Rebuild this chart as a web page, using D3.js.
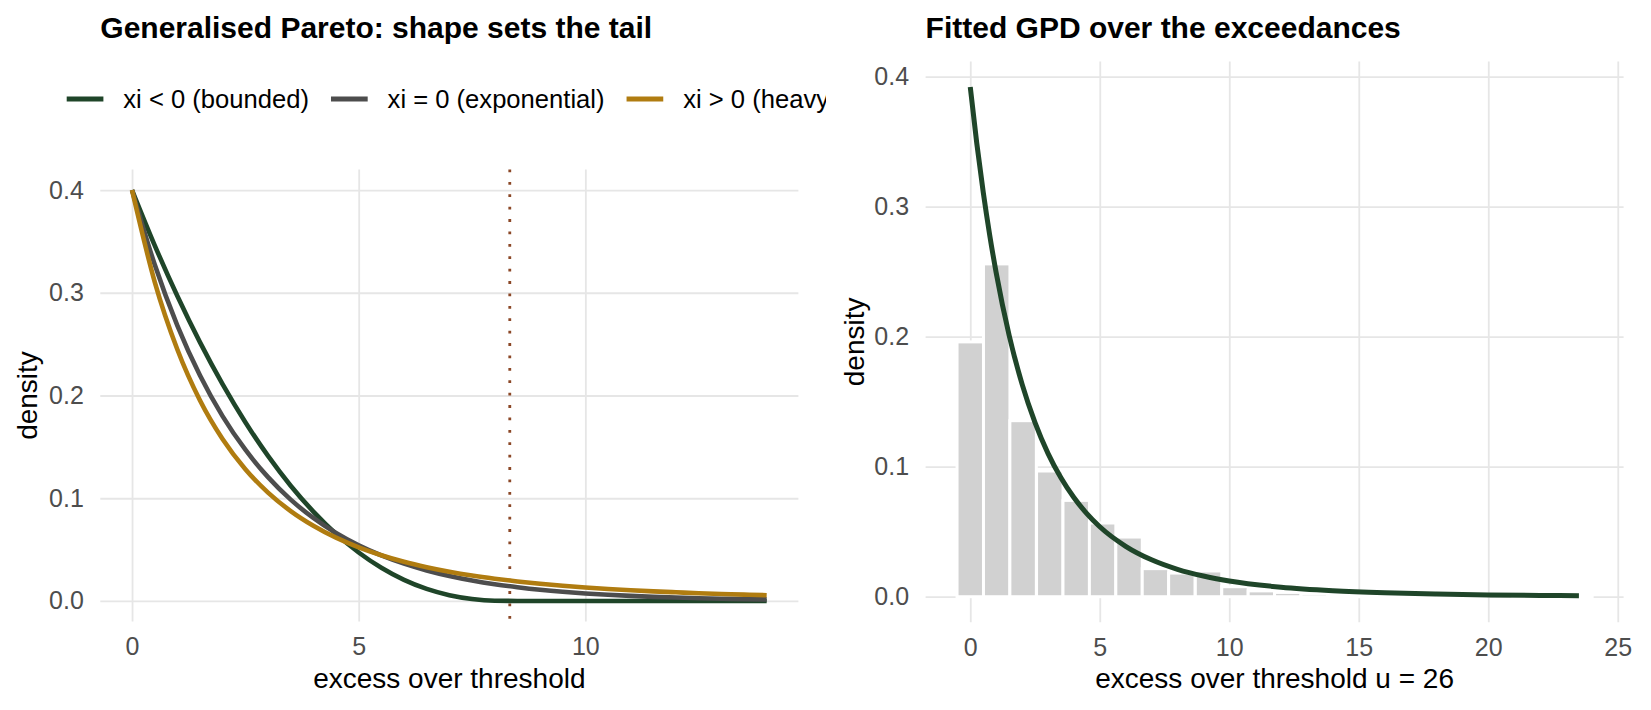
<!DOCTYPE html>
<html>
<head>
<meta charset="utf-8">
<script src="https://cdn.jsdelivr.net/npm/d3@7"></script>
<style>
  body { margin: 0; background: #fff; }
  svg { font-family: "Liberation Sans", Arial, Helvetica, sans-serif; }
  .grid line { stroke: #E6E6E6; stroke-width: 1.8; }
  .grid path { display: none; }
  .ticks path { display: none; }
  .ticks text { fill: #4D4D4D; font-size: 25px; }
</style>
</head>
<body>
<div id="vis-container"></div>
<script>
// ---- data ----

// left panel: GPD densities, sigma = 2.5, sampled every 0.5
var xGrid = [0, 0.5, 1, 1.5, 2, 2.5, 3, 3.5, 4, 4.5, 5, 5.5, 6, 6.5, 7, 7.5, 8, 8.5, 9, 9.5, 10, 10.5, 11, 11.5, 12, 12.5, 13, 13.5, 14];
var yBounded = [0.4, 0.3462, 0.2968, 0.2517, 0.2108, 0.1740, 0.1412, 0.1122, 0.0870, 0.0653, 0.0472, 0.0323, 0.0205, 0.0117, 0.0056, 0.0019, 0.0002, 0, 0, 0, 0, 0, 0, 0, 0, 0, 0, 0, 0];
var yExpon = [0.4, 0.3275, 0.2681, 0.2195, 0.1797, 0.1472, 0.1205, 0.0986, 0.0808, 0.0661, 0.0541, 0.0443, 0.0363, 0.0297, 0.0243, 0.0199, 0.0163, 0.0134, 0.0109, 0.0089, 0.0073, 0.0060, 0.0049, 0.0040, 0.0033, 0.0027, 0.0022, 0.0018, 0.0015];
var yHeavy = [0.4, 0.3107, 0.2448, 0.1952, 0.1575, 0.1283, 0.1055, 0.0875, 0.0732, 0.0616, 0.0522, 0.0445, 0.0381, 0.0329, 0.0285, 0.0248, 0.0217, 0.0190, 0.0167, 0.0148, 0.0131, 0.0117, 0.0104, 0.0093, 0.0084, 0.0075, 0.0068, 0.0062, 0.0056];
var seriesNames = ["xi < 0 (bounded)", "xi = 0 (exponential)", "xi > 0 (heavy tail)"];
var seriesColors = ["#1F4529", "#4D4D4D", "#B07C10"];
var upperEndpoint = 8.333;

// right panel: histogram of exceedances + fitted GPD
var binMid = [0, 1.02, 2.04, 3.07, 4.09, 5.11, 6.13, 7.15, 8.17, 9.20, 10.22, 11.24, 12.26, 13.28, 14.30, 15.33, 16.35, 17.37, 18.39, 19.41, 20.43, 21.46, 22.48, 23.50];
var binWidth = 1.0217;
var binDensity = [0.196, 0.256, 0.1354, 0.0967, 0.0741, 0.0567, 0.0459, 0.0216, 0.0182, 0.0198, 0.0077, 0.0045, 0.0033, 0.0025, 0.0015, 0.001, 0.0006, 0.0005, 0.0003, 0.0004, 0, 0.0002, 0, 0.0003];
var xFit = [0, 0.25, 0.5, 0.75, 1, 1.5, 2, 2.5, 3, 3.5, 4, 4.5, 5, 6, 7, 8, 9, 10, 12, 14, 16, 18, 20, 22, 23.5];
var yFit = [0.392, 0.3489, 0.3112, 0.2782, 0.2492, 0.2011, 0.1635, 0.1339, 0.1103, 0.0915, 0.0763, 0.0639, 0.0538, 0.0388, 0.0284, 0.0211, 0.0159, 0.0121, 0.0073, 0.0046, 0.0030, 0.0020, 0.0014, 0.0010, 0.0007];

var yTicks = [0, 0.1, 0.2, 0.3, 0.4];
var xTicksLeft = [0, 5, 10];
var xTicksRight = [0, 5, 10, 15, 20, 25];

// ---- svg ----
var width = 1651, height = 710;
var svg = d3.select("#vis-container").append("svg")
    .attr("width", width)
    .attr("height", height);

svg.append("clipPath").attr("id", "clip-left")
  .append("rect").attr("x", 0).attr("y", 0).attr("width", 826).attr("height", height);

// scales (domains include ggplot's default expansion)
var xL = d3.scaleLinear().domain([-0.7, 14.7]).range([100.3, 798.4]);
var yL = d3.scaleLinear().domain([-0.02, 0.42]).range([621.5, 169.5]);
var xR = d3.scaleLinear().domain([-1.725, 25.225]).range([925.6, 1623.6]);
var yR = d3.scaleLinear().domain([-0.0196, 0.4116]).range([622.2, 61.6]);

function drawFrame(g, x, y, xTicks, yTicks) {
    var x0 = x.range()[0], x1 = x.range()[1];
    var y0 = y.range()[0], y1 = y.range()[1];

    g.append("g").attr("class", "grid")
        .attr("transform", "translate(0," + y0 + ")")
        .call(d3.axisBottom(x).tickValues(xTicks).tickSize(-(y0 - y1)).tickFormat(""));
    g.append("g").attr("class", "grid")
        .attr("transform", "translate(" + x0 + ",0)")
        .call(d3.axisLeft(y).tickValues(yTicks).tickSize(-(x1 - x0)).tickFormat(""));

    g.append("g").attr("class", "ticks")
        .attr("transform", "translate(0," + y0 + ")")
        .call(d3.axisBottom(x).tickValues(xTicks).tickSize(0).tickPadding(16).tickFormat(d3.format("d")));
    g.append("g").attr("class", "ticks")
        .attr("transform", "translate(" + x0 + ",0)")
        .call(d3.axisLeft(y).tickValues(yTicks).tickSize(0).tickPadding(16.5).tickFormat(d3.format(".1f")));
    g.selectAll(".ticks").attr("font-size", null).attr("font-family", null);
}

// ---- left plot ----
var left = svg.append("g").attr("clip-path", "url(#clip-left)");
drawFrame(left, xL, yL, xTicksLeft, yTicks);

left.append("line")
    .attr("x1", xL(upperEndpoint)).attr("x2", xL(upperEndpoint))
    .attr("y1", yL.range()[1]).attr("y2", yL.range()[0])
    .attr("stroke", "#8B4726")
    .attr("stroke-width", 2.8)
    .attr("stroke-dasharray", "2.8 9.6");

var lineL = d3.line()
    .x(d => xL(d[0]))
    .y(d => yL(d[1]))
    .curve(d3.curveMonotoneX);

[yBounded, yExpon, yHeavy].forEach(function(ys, i) {
    left.append("path")
        .attr("d", lineL(xGrid.map((xv, j) => [xv, ys[j]])))
        .attr("fill", "none")
        .attr("stroke", seriesColors[i])
        .attr("stroke-width", 4.6);
});

left.append("text")
    .attr("x", 100.3).attr("y", 37.5)
    .attr("font-size", 30).attr("font-weight", "bold")
    .text("Generalised Pareto: shape sets the tail");

// legend
var lx = 66.7;
seriesNames.forEach(function(name, i) {
    left.append("line")
        .attr("x1", lx).attr("x2", lx + 36.7)
        .attr("y1", 99).attr("y2", 99)
        .attr("stroke", seriesColors[i])
        .attr("stroke-width", 5);
    var t = left.append("text")
        .attr("x", lx + 56.6).attr("y", 108)
        .attr("font-size", 25.6)
        .text(name);
    lx = lx + 56.6 + t.node().getComputedTextLength() + 22;
});

left.append("text")
    .attr("x", (xL.range()[0] + xL.range()[1]) / 2).attr("y", 688)
    .attr("text-anchor", "middle").attr("font-size", 28)
    .text("excess over threshold");
left.append("text")
    .attr("transform", "translate(37," + (yL.range()[0] + yL.range()[1]) / 2 + ") rotate(-90)")
    .attr("text-anchor", "middle").attr("font-size", 28)
    .text("density");

// ---- right plot ----
var right = svg.append("g");
drawFrame(right, xR, yR, xTicksRight, yTicks);

right.selectAll("rect.bar")
    .data(binMid)
    .enter().append("rect")
    .attr("class", "bar")
    .attr("x", d => xR(d - binWidth / 2))
    .attr("width", d => xR(d + binWidth / 2) - xR(d - binWidth / 2))
    .attr("y", (d, i) => yR(binDensity[i]))
    .attr("height", (d, i) => yR(0) - yR(binDensity[i]))
    .attr("fill", "#D1D1D1")
    .attr("stroke", "#FFFFFF")
    .attr("stroke-width", 3);

var lineR = d3.line()
    .x(d => xR(d[0]))
    .y(d => yR(d[1]))
    .curve(d3.curveMonotoneX);

right.append("path")
    .attr("d", lineR(xFit.map((xv, j) => [xv, yFit[j]])))
    .attr("fill", "none")
    .attr("stroke", "#1F4529")
    .attr("stroke-width", 5);

right.append("text")
    .attr("x", 925.6).attr("y", 37.5)
    .attr("font-size", 30).attr("font-weight", "bold")
    .text("Fitted GPD over the exceedances");

right.append("text")
    .attr("x", (xR.range()[0] + xR.range()[1]) / 2).attr("y", 688)
    .attr("text-anchor", "middle").attr("font-size", 28)
    .text("excess over threshold u = 26");
right.append("text")
    .attr("transform", "translate(864," + (yR.range()[0] + yR.range()[1]) / 2 + ") rotate(-90)")
    .attr("text-anchor", "middle").attr("font-size", 28)
    .text("density");
</script>
</body>
</html>
